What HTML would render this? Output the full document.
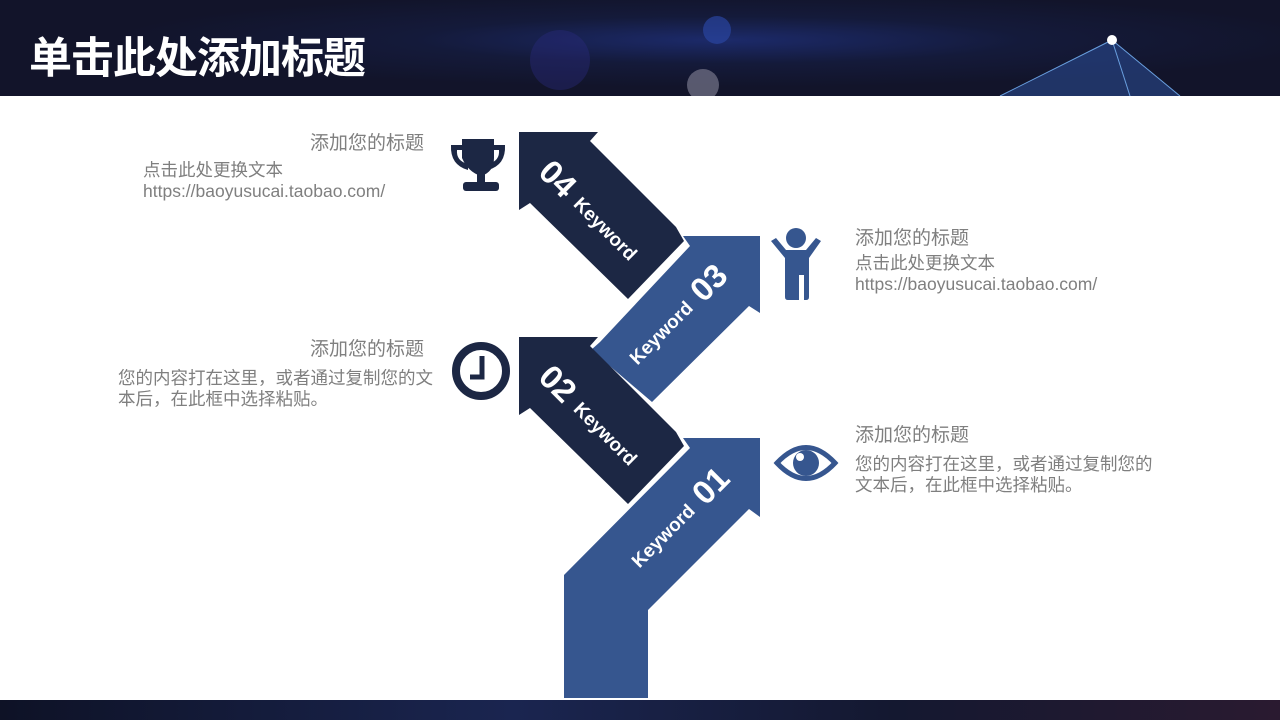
<!DOCTYPE html>
<html><head><meta charset="utf-8"><style>
body{margin:0;width:1280px;height:720px;overflow:hidden;background:#fff;font-family:"Liberation Sans","Noto Sans CJK SC",sans-serif;position:relative}
.hdr{position:absolute;left:0;top:0;width:1280px;height:96px;background:radial-gradient(ellipse at 720px 40px,#1c2a6a 0,#141a3a 30%,#12142a 60%),#12142a}
.ftr{position:absolute;left:0;top:700px;width:1280px;height:20px;background:linear-gradient(90deg,#0e1226,#1a2550 40%,#141830 70%,#2a1a30)}
.title{position:absolute;left:29px;top:27px;color:#fff;font-size:43px;font-weight:bold;font-family:"Noto Sans CJK SC",sans-serif;line-height:56px;letter-spacing:-1px}
.t{position:absolute;color:#7f7f7f;font-size:19px;line-height:24px;font-family:"Noto Sans CJK SC","Liberation Sans",sans-serif}
.s{position:absolute;color:#7f7f7f;font-size:17.5px;line-height:21px;font-family:"Liberation Sans","Noto Sans CJK SC",sans-serif}
.k{position:absolute;color:#fff;font-weight:bold;font-size:19px;white-space:nowrap;transform-origin:center;font-family:"Liberation Sans",sans-serif}
.k b{font-size:33px;vertical-align:-3px}
</style></head><body>
<div class="hdr">
<svg width="1280" height="96" style="position:absolute;left:0;top:0">
<circle cx="717" cy="30" r="14" fill="#2a45a0" opacity=".7"/>
<circle cx="703" cy="85" r="16" fill="#6a6a80" opacity=".8"/>
<circle cx="560" cy="60" r="30" fill="#2a2a80" opacity=".4"/>
<polygon points="1112,40 1000,96 1180,96" fill="#2a4a90" opacity=".6"/>
<line x1="1112" y1="40" x2="1000" y2="96" stroke="#6aa0e0"/><line x1="1112" y1="40" x2="1180" y2="96" stroke="#6aa0e0"/><line x1="1112" y1="40" x2="1130" y2="96" stroke="#6aa0e0"/>
<circle cx="1112" cy="40" r="5" fill="#fff"/>
</svg>
<div class="title">单击此处添加标题</div></div>
<div class="ftr"></div>

<svg width="1280" height="720" style="position:absolute;left:0;top:0">
<polygon fill="#1c2744" points="519,132 598,132 590,141 676,227 684,241 628,299 530,203 519,210"/>
<polygon fill="#36568f" points="683,236 760,236 760,313 749,306 652,402 591,350 600,342 690,246"/>
<polygon fill="#1c2744" points="519,337 598,337 590,346 676,432 684,446 628,504 530,408 519,415"/>
<polygon fill="#36568f" points="564,698 648,698 648,610 749,509 760,517 760,438 683,438 690,448 564,575"/>
<g fill="#1c2744">
<path d="M462,139 H494 V158 Q494,172 481,176 Q468,172 462,158 Z"/>
<path d="M462,145 H451 Q450,165 468,170 L468,164 Q456,161 457,150 H462Z"/>
<path d="M494,145 H505 Q506,165 488,170 L488,164 Q500,161 499,150 H494Z"/>
<rect x="477" y="174" width="8" height="10"/>
<rect x="463" y="182" width="36" height="9" rx="3"/>
</g>
<circle cx="481" cy="371" r="25" fill="none" stroke="#1c2744" stroke-width="8"/>
<path d="M482,356 V377 H470" fill="none" stroke="#1c2744" stroke-width="5"/>
<g fill="#36568f">
<circle cx="796" cy="238" r="10"/>
<path d="M786,250 H806 L816,238 L821,241 L809,258 V297 Q809,300 806,300 H804 V275 H799 V300 H788 Q785,300 785,297 V258 L771,241 L776,238 Z"/>
</g>
<path d="M777,463 Q806,432 835,463 Q806,494 777,463Z" fill="none" stroke="#36568f" stroke-width="5"/>
<circle cx="806" cy="463" r="13" fill="#36568f"/>
<circle cx="800" cy="457" r="4" fill="#fff"/>
</svg>

<div class="k" style="left:526px;top:192px;transform:rotate(45deg)"><b>04</b>&nbsp; Keyword</div>
<div class="k" style="left:613px;top:296px;transform:rotate(-45deg)">Keyword&nbsp; <b>03</b></div>
<div class="k" style="left:526px;top:397px;transform:rotate(45deg)"><b>02</b>&nbsp; Keyword</div>
<div class="k" style="left:615px;top:499px;transform:rotate(-45deg)">Keyword&nbsp; <b>01</b></div>

<div class="t" style="left:310px;top:130px">添加您的标题</div>
<div class="s" style="left:143px;top:160px">点击此处更换文本<br>https://baoyusucai.taobao.com/</div>
<div class="t" style="left:855px;top:225px">添加您的标题</div>
<div class="s" style="left:855px;top:253px">点击此处更换文本<br>https://baoyusucai.taobao.com/</div>
<div class="t" style="left:310px;top:336px">添加您的标题</div>
<div class="s" style="left:118px;top:368px;width:330px">您的内容打在这里，或者通过复制您的文本后，在此框中选择粘贴。</div>
<div class="t" style="left:855px;top:422px">添加您的标题</div>
<div class="s" style="left:855px;top:454px;width:310px">您的内容打在这里，或者通过复制您的文本后，在此框中选择粘贴。</div>
</body></html>
